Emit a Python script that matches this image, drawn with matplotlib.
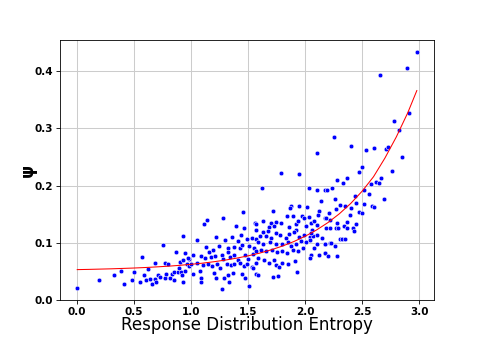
import matplotlib
matplotlib.use("Agg")
import matplotlib.pyplot as plt
import numpy as np

# points (entropy, psi), grouped by region left -> right
entropy = [
    0.00, 0.19, 0.32, 0.38, 0.41, 0.485, 0.50, 0.55, 0.57, 0.59, 0.60, 0.62, 0.635, 0.66,
    0.68, 0.68, 0.69, 0.71, 0.73, 0.75, 0.77, 0.77, 0.78, 0.80, 0.81, 0.83, 0.845, 0.85,
    0.87, 0.88, 0.89, 0.90, 0.91, 0.92, 0.93, 0.93, 0.93, 0.95, 0.95, 0.96, 0.98, 0.98,
    # 1.0 - 1.57
    1.456, 1.28, 1.14, 1.11, 1.56, 1.39, 1.46, 1.05, 1.22, 1.30, 1.36, 1.44, 1.41, 1.49,
    1.53, 1.57, 1.13, 1.19, 1.24, 1.32, 1.38, 1.43, 1.45, 1.51, 1.55, 1.02, 1.09, 1.12,
    1.155, 1.17, 1.21, 1.27, 1.28, 1.32, 1.34, 1.38, 1.41, 1.47, 1.50, 1.54, 0.97, 1.00,
    1.055, 1.105, 1.15, 1.18, 1.23, 1.25, 1.31, 1.35, 1.38, 1.43, 1.46, 1.49, 1.53, 1.57,
    1.02, 1.08, 1.09, 1.085, 1.20, 1.22, 1.29, 1.32, 1.33, 1.27, 1.37, 1.45, 1.47, 1.51,
    1.54, 1.57,
    # 1.57 - 2.17
    2.10, 1.79, 1.95, 1.62, 2.035, 2.10, 2.17, 2.14, 1.88, 1.87, 1.945, 2.015, 1.72, 1.84,
    1.89, 1.97, 1.99, 2.03, 2.125, 2.11, 2.17, 1.57, 1.63, 1.70, 1.745, 1.79, 1.92, 1.94,
    2.05, 2.08, 1.685, 1.73, 1.86, 1.92, 2.01, 2.10, 1.57, 1.60, 1.63, 1.67, 1.66, 1.70,
    1.74, 1.775, 1.83, 1.86, 1.90, 1.95, 1.99, 2.04, 2.07, 2.10, 2.15, 1.59, 1.63, 1.69,
    1.745, 1.80, 1.85, 1.88, 1.92, 1.965, 2.01, 2.04, 2.10, 2.17, 1.57, 1.61, 1.66, 1.71,
    1.75, 1.80, 1.84, 1.89, 1.94, 1.98, 2.05, 2.125, 2.17, 1.585, 1.64, 1.68, 1.73, 1.745,
    1.77, 1.80, 1.85, 1.915, 1.59, 1.72, 1.76, 1.93, 2.08, 2.04, 2.06, 2.05,
    # 2.17 - 2.98
    2.66, 2.78, 2.82, 2.25, 2.40, 2.71, 2.73, 2.53, 2.60, 2.85, 2.50, 2.47, 2.76, 2.28,
    2.37, 2.33, 2.24, 2.19, 2.62, 2.65, 2.67, 2.58, 2.52, 2.56, 2.69, 2.44, 2.26, 2.31,
    2.35, 2.40, 2.45, 2.52, 2.585, 2.60, 2.27, 2.21, 2.18, 2.22, 2.18, 2.22, 2.28, 2.27,
    2.29, 2.34, 2.37, 2.39, 2.37, 2.47, 2.50, 2.42, 2.425, 2.445, 2.31, 2.32, 2.35, 2.17,
    2.22, 2.23, 2.26, 2.17, 2.20, 2.28, 2.98, 2.89, 2.91,
]
psi = [
    0.021, 0.034, 0.043, 0.051, 0.028, 0.034, 0.048, 0.031, 0.075, 0.044, 0.034, 0.054, 0.036, 0.027,
    0.037, 0.065, 0.031, 0.044, 0.040, 0.096, 0.064, 0.038, 0.045, 0.063, 0.039, 0.046, 0.048, 0.034,
    0.084, 0.048, 0.055, 0.066, 0.049, 0.044, 0.032, 0.111, 0.069, 0.082, 0.050, 0.062, 0.072, 0.059,
    0.154, 0.144, 0.139, 0.133, 0.134, 0.130, 0.125, 0.104, 0.110, 0.104, 0.110, 0.113, 0.103, 0.106,
    0.108, 0.106, 0.092, 0.088, 0.094, 0.091, 0.092, 0.091, 0.096, 0.094, 0.090, 0.078, 0.076, 0.073,
    0.084, 0.075, 0.076, 0.079, 0.072, 0.084, 0.075, 0.078, 0.070, 0.079, 0.072, 0.080, 0.073, 0.062,
    0.065, 0.061, 0.063, 0.059, 0.063, 0.056, 0.062, 0.061, 0.063, 0.065, 0.059, 0.062, 0.057, 0.065,
    0.045, 0.051, 0.038, 0.032, 0.047, 0.038, 0.038, 0.043, 0.031, 0.019, 0.047, 0.045, 0.038, 0.025,
    0.056, 0.045,
    0.257, 0.222, 0.220, 0.196, 0.195, 0.193, 0.192, 0.173, 0.165, 0.161, 0.165, 0.162, 0.155, 0.146,
    0.146, 0.147, 0.144, 0.145, 0.155, 0.148, 0.144, 0.133, 0.138, 0.135, 0.137, 0.135, 0.132, 0.138,
    0.135, 0.138, 0.127, 0.129, 0.127, 0.123, 0.129, 0.131, 0.123, 0.111, 0.119, 0.121, 0.111, 0.108,
    0.117, 0.113, 0.108, 0.115, 0.119, 0.110, 0.114, 0.110, 0.111, 0.114, 0.108, 0.101, 0.098, 0.101,
    0.097, 0.098, 0.101, 0.094, 0.098, 0.103, 0.101, 0.104, 0.098, 0.097, 0.085, 0.088, 0.085, 0.088,
    0.084, 0.086, 0.082, 0.088, 0.085, 0.090, 0.079, 0.078, 0.082, 0.073, 0.070, 0.065, 0.070, 0.061,
    0.057, 0.065, 0.063, 0.068, 0.044, 0.040, 0.041, 0.049, 0.090, 0.074, 0.123, 0.117,
    0.393, 0.313, 0.297, 0.284, 0.269, 0.264, 0.268, 0.262, 0.266, 0.250, 0.233, 0.224, 0.225, 0.209,
    0.213, 0.204, 0.196, 0.192, 0.207, 0.204, 0.213, 0.203, 0.193, 0.186, 0.177, 0.182, 0.176, 0.166,
    0.164, 0.161, 0.169, 0.168, 0.165, 0.162, 0.159, 0.152, 0.144, 0.139, 0.126, 0.126, 0.135, 0.126,
    0.125, 0.129, 0.126, 0.148, 0.137, 0.154, 0.152, 0.126, 0.120, 0.132, 0.107, 0.107, 0.106, 0.097,
    0.100, 0.099, 0.094, 0.082, 0.076, 0.076, 0.433, 0.406, 0.327,
]

# fitted curve
fit_x = [0.0, 0.1, 0.2, 0.3, 0.4, 0.5, 0.6, 0.7, 0.8, 0.9, 1.0, 1.1, 1.2, 1.3, 1.4, 1.5,
         1.6, 1.7, 1.8, 1.9, 2.0, 2.1, 2.2, 2.3, 2.4, 2.5, 2.6, 2.7, 2.8, 2.9, 2.98]
fit_y = [0.0530, 0.0534, 0.0539, 0.0544, 0.0551, 0.0558, 0.0567, 0.0578, 0.0590, 0.0605,
         0.0623, 0.0643, 0.0668, 0.0697, 0.0731, 0.0771, 0.0818, 0.0875, 0.0941, 0.1020,
         0.1113, 0.1223, 0.1352, 0.1506, 0.1687, 0.1901, 0.2154, 0.2480, 0.2850, 0.3270,
         0.3660]

fig, ax = plt.subplots(figsize=(482 / 75, 337 / 75), dpi=75)
ax.scatter(entropy, psi, s=20, color='blue', edgecolors='white', linewidths=0.5, zorder=2)
ax.plot(fit_x, fit_y, color='red', lw=1, zorder=3)

ax.set_ylim(bottom=0)
ax.grid(True, color='#cccccc', lw=1)
ax.set_axisbelow(True)
ax.set_xlabel('Response Distribution Entropy', fontsize=16, labelpad=-1)
ax.set_ylabel('ψ', fontsize=16, fontweight='bold', labelpad=-2)
for lab in ax.get_xticklabels() + ax.get_yticklabels():
    lab.set_fontweight('bold')
    lab.set_fontsize(10)

fig.savefig('out.png', dpi=75)
